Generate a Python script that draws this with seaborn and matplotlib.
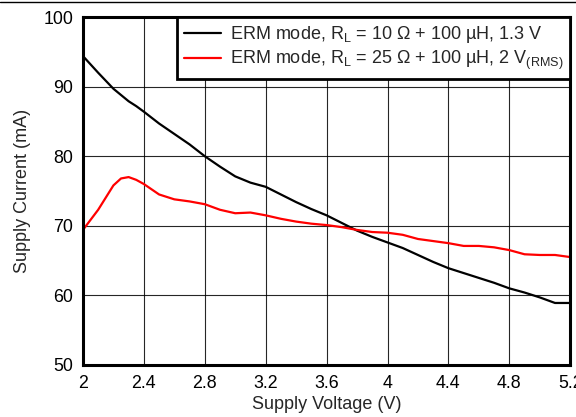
import numpy as np
import pandas as pd
import matplotlib
matplotlib.use('Agg')
import matplotlib.pyplot as plt
from matplotlib.lines import Line2D
import seaborn as sns

# Supply voltage (V)
voltage = [2.0, 2.1, 2.2, 2.25, 2.3, 2.35, 2.4, 2.5, 2.6, 2.7, 2.8, 2.9, 3.0, 3.1,
           3.2, 3.3, 3.4, 3.5, 3.6, 3.7, 3.8, 3.9, 4.0, 4.1, 4.2, 4.3, 4.4, 4.5,
           4.6, 4.7, 4.8, 4.9, 5.0, 5.1, 5.2]

# Supply current (mA), ERM 10 ohm, 1.3 V
current_10ohm = [94.4, 92.0, 89.7, 88.8, 87.9, 87.2, 86.4, 84.7, 83.2, 81.7, 80.0,
                 78.5, 77.1, 76.2, 75.6, 74.5, 73.4, 72.4, 71.5, 70.4, 69.3, 68.4,
                 67.6, 66.8, 65.8, 64.8, 63.9, 63.2, 62.5, 61.8, 61.0, 60.4, 59.7,
                 58.9, 58.9]

# Supply current (mA), ERM 25 ohm, 2 Vrms
current_25ohm = [69.4, 72.3, 75.8, 76.8, 77.0, 76.6, 76.0, 74.5, 73.8, 73.5, 73.1,
                 72.3, 71.8, 71.9, 71.5, 71.0, 70.6, 70.3, 70.1, 69.8, 69.4, 69.1,
                 69.0, 68.7, 68.1, 67.8, 67.5, 67.1, 67.1, 66.9, 66.5, 65.9, 65.8,
                 65.8, 65.5]

label_10 = r'ERM mode, R$_\mathregular{L}$ = 10 Ω + 100 µH, 1.3 V'
label_25 = r'ERM mode, R$_\mathregular{L}$ = 25 Ω + 100 µH, 2 V$_\mathregular{(RMS)}$'

df = pd.DataFrame({
    'Voltage': voltage * 2,
    'Current': current_10ohm + current_25ohm,
    'Series': [label_10] * len(voltage) + [label_25] * len(voltage),
})

sns.set_theme(style='white')
plt.rcParams['font.family'] = ['Liberation Sans', 'DejaVu Sans']
plt.rcParams['mathtext.fontset'] = 'custom'
plt.rcParams['mathtext.rm'] = 'Liberation Sans'

fig = plt.figure(figsize=(5.76, 4.17), dpi=100)
ax = fig.add_axes([0.144, 0.125, 0.846, 0.834])

sns.lineplot(data=df, x='Voltage', y='Current', hue='Series',
             palette=['black', 'red'], linewidth=1.6, ax=ax)

ax.set_xlim(2, 5.2)
ax.set_ylim(50, 100)
ax.set_xticks(np.arange(2, 5.21, 0.4))
ax.set_xticklabels(['2', '2.4', '2.8', '3.2', '3.6', '4', '4.4', '4.8', '5.2'])
ax.set_yticks(np.arange(50, 101, 10))
ax.grid(True, color='black', linewidth=0.8, alpha=0.85)
ax.tick_params(axis='both', length=0, labelsize=12.8, colors='black', pad=7)
for s in ax.spines.values():
    s.set_linewidth(2.2)
    s.set_color('black')

ax.set_xlabel('Supply Voltage (V)', fontsize=13, labelpad=3)
ax.set_ylabel('Supply Current (mA)', fontsize=13, labelpad=9)

leg = ax.legend(loc='upper right', borderaxespad=0, fontsize=13,
                frameon=True, fancybox=False, framealpha=1,
                handlelength=2.0, handletextpad=0.5, borderpad=0.4,
                labelspacing=0.2)
leg.get_frame().set_edgecolor('black')
leg.get_frame().set_linewidth(2)
leg.set_title(None)

# top border line of the figure
fig.add_artist(Line2D([0, 1], [0.995, 0.995], color='black', linewidth=1,
                      transform=fig.transFigure))

fig.savefig('out.png', dpi=100)
